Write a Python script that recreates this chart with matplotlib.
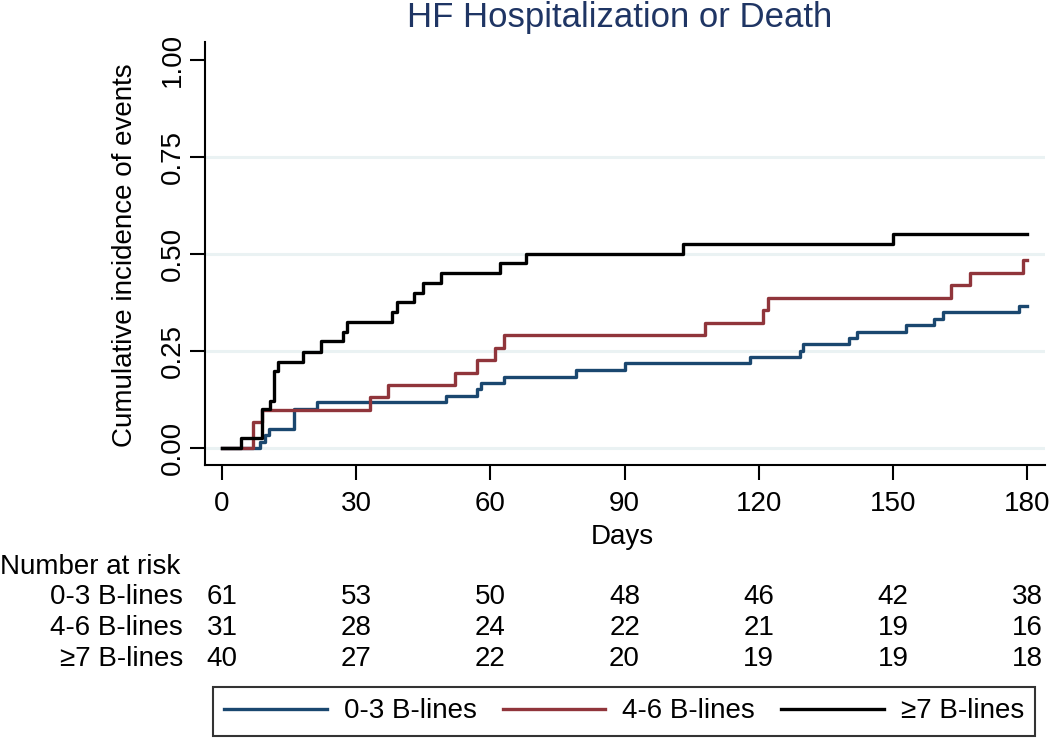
import matplotlib
matplotlib.use("Agg")
import matplotlib.pyplot as plt
import matplotlib.transforms as mtransforms

plt.rcParams['font.family'] = ['Liberation Sans', 'DejaVu Sans']

# cumulative incidence step data
t_low = [0, 8.6, 9.6, 10.6, 16.1, 21.2, 50.1, 57.0, 57.9, 63.0, 79.2, 90.2, 118.1,
         129.2, 129.9, 140.1, 142.0, 153.0, 159.1, 161.1, 178.1, 180]
y_low = [0, 0.016, 0.033, 0.050, 0.100, 0.118, 0.134, 0.151, 0.168, 0.184, 0.201, 0.218, 0.235,
         0.250, 0.267, 0.283, 0.300, 0.317, 0.332, 0.350, 0.366, 0.366]

t_mid = [0, 7.0, 9.0, 33.1, 37.2, 52.1, 57.0, 61.0, 63.0, 108.0, 121.0, 122.0,
         163.0, 167.2, 179.1, 180]
y_mid = [0, 0.066, 0.098, 0.130, 0.161, 0.194, 0.226, 0.258, 0.290, 0.323, 0.355, 0.387,
         0.420, 0.452, 0.485, 0.485]

t_high = [0, 4.3, 8.9, 10.7, 11.7, 12.6, 18.2, 22.1, 27.1, 28.0, 38.0, 39.1, 43.0,
          45.0, 49.0, 62.1, 68.0, 103.0, 150.0, 180]
y_high = [0, 0.025, 0.100, 0.122, 0.197, 0.222, 0.248, 0.275, 0.300, 0.325, 0.350, 0.375, 0.400,
          0.425, 0.450, 0.476, 0.500, 0.526, 0.552, 0.552]

groups = ["0-3 B-lines", "4-6 B-lines", "\u22657 B-lines"]
colors = ["#1a476f", "#90353b", "#000000"]

risk_times = [0, 30, 60, 90, 120, 150, 180]
risk_low = [61, 53, 50, 48, 46, 42, 38]
risk_mid = [31, 28, 24, 22, 21, 19, 16]
risk_high = [40, 27, 22, 20, 19, 19, 18]

yticks = [0, 0.25, 0.5, 0.75, 1.0]
fs = 20

fig = plt.figure(figsize=(10.5, 7.39), dpi=100)
ax = fig.add_axes([205 / 1050, 1 - 465 / 739, 840 / 1050, 423 / 739])

for yv in yticks[:-1]:
    ax.axhline(yv, color="#eaf2f3", lw=2.2, zorder=0)

series = [(t_low, y_low), (t_mid, y_mid), (t_high, y_high)]
for (t, y), lab, c in zip(series, groups, colors):
    ax.step(t, y, where="post", color=c, lw=2.4, label=lab, zorder=2)

ax.set_xlim(-3.8, 184)
ax.set_ylim(-0.044, 1.046)
ax.set_xticks(risk_times)
ax.set_yticks(yticks)
ax.set_yticklabels(["0.00", "0.25", "0.50", "0.75", "1.00"], rotation=90, va="center")
ax.tick_params(axis="both", labelsize=fs, length=11, width=1.5, direction="out")
ax.tick_params(axis="x", pad=8)
ax.tick_params(axis="y", pad=3)
for s in ["top", "right"]:
    ax.spines[s].set_visible(False)
for s in ["left", "bottom"]:
    ax.spines[s].set_linewidth(1.5)

fig.text(125 / 1050, 1 - 255 / 739, "Cumulative incidence of events", rotation=90,
         ha="center", va="center", fontsize=fs)
fig.text(622 / 1050, 1 - 537 / 739, "Days", ha="center", va="center", fontsize=fs)
fig.text(620 / 1050, 1 - 27 / 739, "HF Hospitalization or Death", ha="center",
         va="baseline", fontsize=25, color="#1f3564")

# number at risk table
trans = mtransforms.blended_transform_factory(ax.transData, fig.transFigure)
fig.text(0, 1 - 567 / 739, "Number at risk", ha="left", va="center", fontsize=fs)
rows = [risk_low, risk_mid, risk_high]
row_y = [597, 628, 659]
for lab, vals, yy in zip(groups, rows, row_y):
    fig.text(183 / 1050, 1 - yy / 739, lab, ha="right", va="center", fontsize=fs)
    for tt, v in zip(risk_times, vals):
        fig.text(tt, 1 - yy / 739, str(v), ha="center", va="center", fontsize=fs, transform=trans)

h, l = ax.get_legend_handles_labels()
leg = fig.legend(h, l, loc="center", ncol=3, mode="expand",
                 bbox_to_anchor=(213 / 1050, 1 - 738 / 739, 822 / 1050, 53 / 739),
                 fontsize=fs, frameon=True, fancybox=False, edgecolor="black",
                 handlelength=3.7, handletextpad=0.6, columnspacing=1.5,
                 borderaxespad=0)
leg.get_frame().set_linewidth(1.5)

fig.savefig("out.png", dpi=100)
